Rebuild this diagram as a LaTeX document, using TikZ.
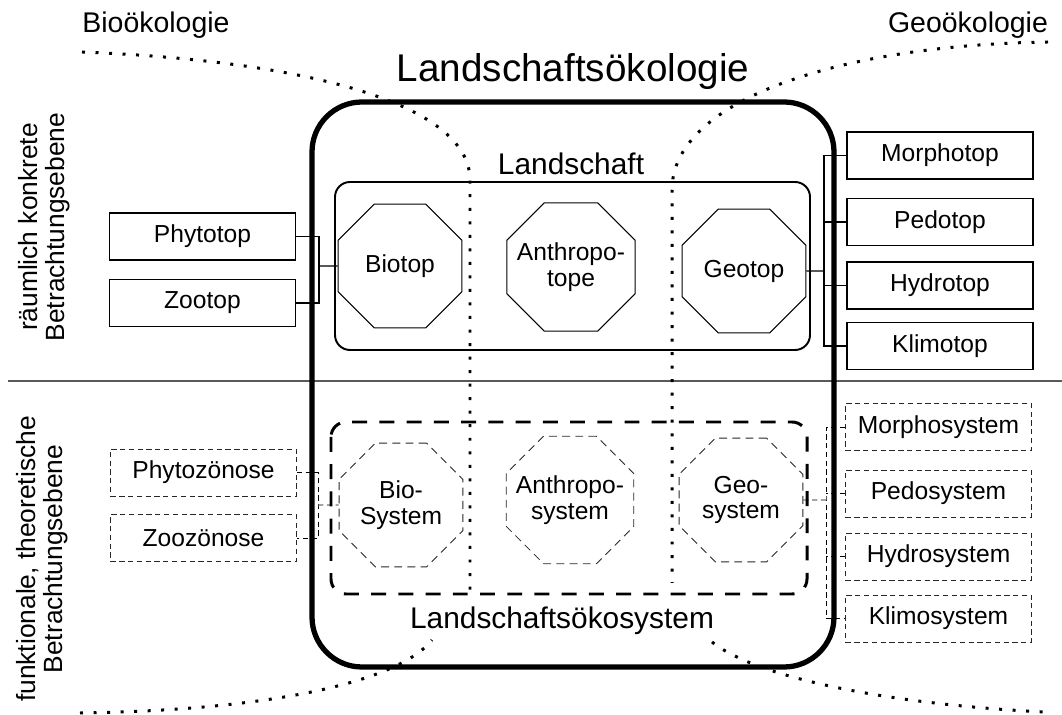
\documentclass[tikz,border=0pt]{standalone}
\usepackage{fontspec}
\setmainfont{Liberation Sans}
\usetikzlibrary{shapes.geometric, calc}
\tikzset{
  align=center,
  boxfont/.style={font=\fontsize{14}{14.7}\selectfont},
  tbox/.style={draw, line width=0.7pt, minimum width=3.72cm, minimum height=0.94cm, inner sep=0pt, boxfont},
  sbox/.style={tbox, line width=0.5pt, draw=black!85, dash pattern=on 3pt off 2pt},
  octo/.style={draw, regular polygon, regular polygon sides=8, minimum size=2.68cm, inner sep=-0.5cm, line width=0.6pt, boxfont},
  sysocto/.style={octo, line width=0.5pt, draw=black!85, dash pattern=on 4.5pt off 3pt},
  brk/.style={line width=0.6pt},
  sysbrk/.style={line width=0.5pt, dash pattern=on 3pt off 2pt},
  rahmen/.style={line width=3pt, rounded corners=1cm},
  dotline/.style={line width=1.7pt, dash pattern=on 1.7pt off 6pt},
  sidelabel/.style={font=\fontsize{15}{15.5}\selectfont, rotate=90}
}

\begin{document}
\begin{tikzpicture}[x=0.02cm, y=-0.02cm]
  \useasboundingbox (0,0) rectangle (1062,715);

  % containers
  \draw[line width=0.8pt, black!65] (8,381) -- (1062,381);
  \draw[rahmen] (312,102) rectangle (834,667);
  \draw[line width=1.1pt, rounded corners=0.3cm] (335,182) rectangle (810,350);
  \draw[line width=1.7pt, rounded corners=0.3cm, dash pattern=on 8.5pt off 7pt] (331,422) rectangle (807,594);

  % dotted borders
  \draw[dotline] (82,52) .. controls (330,62) and (470,110) .. (470,180) -- (470,593);
  \draw[dotline] (1048,42) .. controls (840,45) and (672,100) .. (672,190) -- (672,583);
  \draw[dotline] (80,713) .. controls (280,710) and (400,680) .. (432,640);
  \draw[dotline] (712,642) .. controls (760,680) and (900,705) .. (1045,712);

  % texts
  \node[font=\fontsize{16.2}{18}\selectfont, anchor=base] (bio) at (156,33) {Bioökologie};
  \node[font=\fontsize{16.2}{18}\selectfont, anchor=base] (geo) at (968,33) {Geoökologie};
  \node[font=\fontsize{22}{24}\selectfont, anchor=base] (title) at (573,82) {Landschaftsökologie};
  \node[font=\fontsize{17}{19}\selectfont, anchor=base] (landschaft) at (571,175) {Landschaft};
  \node[font=\fontsize{17}{19}\selectfont, anchor=base] (oekosystem) at (562,629) {Landschaftsökosystem};
  \node[sidelabel] (konkret) at (44,227) {räumlich konkrete\\Betrachtungsebene};
  \node[sidelabel] (funktional) at (42,559) {funktionale, theoretische\\Betrachtungsebene};

  % tope
  \node[tbox] (phytotop) at (202.5,236.5) {Phytotop};
  \node[tbox] (zootop) at (202.5,303) {Zootop};
  \node[octo] (biotop) at (400,266) {Biotop};
  \node[octo, minimum size=2.78cm] (anthropotop) at (571,267) {Anthropo-\\tope};
  \node[octo] (geotop) at (744,271) {Geotop};
  \node[tbox] (morphotop) at (940,155.5) {Morphotop};
  \node[tbox] (pedotop) at (940,222) {Pedotop};
  \node[tbox] (hydrotop) at (940,285.5) {Hydrotop};
  \node[tbox] (klimotop) at (940,346) {Klimotop};

  \coordinate (lbrk) at (319,266);
  \draw[brk] (phytotop.east) -| (lbrk) |- (zootop.east);
  \draw[brk] (lbrk) -- (biotop.west);
  \coordinate (rbrk) at (824,271);
  \draw[brk] (geotop.east) -- (rbrk);
  \draw[brk] (morphotop.west) -| (rbrk) |- (klimotop.west);
  \draw[brk] (pedotop.west) -- (pedotop.west -| rbrk);
  \draw[brk] (hydrotop.west) -- (hydrotop.west -| rbrk);

  % systeme
  \node[sbox] (phytozoenose) at (203.5,472.5) {Phytozönose};
  \node[sbox] (zoozoenose) at (203.5,538) {Zoozönose};
  \node[sysocto] (biosys) at (401,505) {Bio-\\System};
  \node[sysocto, minimum size=2.76cm] (anthroposys) at (570,500) {Anthropo-\\system};
  \node[sysocto] (geosys) at (741,500) {Geo-\\system};
  \node[sbox] (morphosys) at (938.5,427) {Morphosystem};
  \node[sbox] (pedosys) at (938.5,493.5) {Pedosystem};
  \node[sbox] (hydrosys) at (938.5,556.5) {Hydrosystem};
  \node[sbox] (klimosys) at (938.5,618.5) {Klimosystem};

  \coordinate (lsbrk) at (318,505);
  \draw[sysbrk] (phytozoenose.east) -| (lsbrk) |- (zoozoenose.east);
  \draw[sysbrk] (lsbrk) -- (biosys.west);
  \coordinate (rsbrk) at (826,500);
  \draw[sysbrk] (geosys.east) -- (rsbrk);
  \draw[sysbrk] (morphosys.west) -| (rsbrk) |- (klimosys.west);
  \draw[sysbrk] (pedosys.west) -- (pedosys.west -| rsbrk);
  \draw[sysbrk] (hydrosys.west) -- (hydrosys.west -| rsbrk);
\end{tikzpicture}
\end{document}
